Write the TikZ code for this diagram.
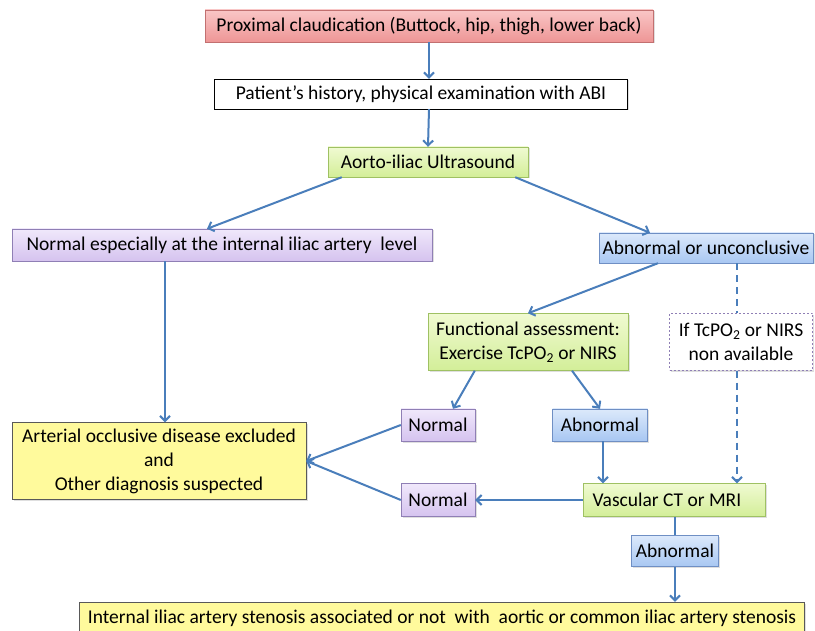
\documentclass[tikz,border=0pt]{standalone}
\usepackage{fontspec}
\setmainfont{Carlito}
\usetikzlibrary{arrows.meta,shadows}

\definecolor{arrowblue}{HTML}{4A7EBB}
\definecolor{pinktop}{HTML}{F9C6C6}
\definecolor{pinkbot}{HTML}{EE9696}
\definecolor{pinkline}{HTML}{C27070}
\definecolor{greentop}{HTML}{F0FAD2}
\definecolor{greenbot}{HTML}{D3EE98}
\definecolor{greenline}{HTML}{9FC163}
\definecolor{purptop}{HTML}{F0E8FB}
\definecolor{purpbot}{HTML}{D5C3EF}
\definecolor{purpline}{HTML}{8F7FB5}
\definecolor{bluetop}{HTML}{DCE9FB}
\definecolor{bluebot}{HTML}{A8C7F2}
\definecolor{blueline}{HTML}{6F8FC4}
\definecolor{yellowfill}{HTML}{FFFA9C}

\begin{document}
\begin{tikzpicture}[x=1pt,y=-1pt,
  box/.style={draw,inner sep=0pt,align=center,font=\fontsize{19.5}{24}\selectfont,
              drop shadow={opacity=0.25,shadow xshift=1.5pt,shadow yshift=-1.5pt}},
  pinkbox/.style={box,draw=pinkline,top color=pinktop,bottom color=pinkbot},
  greenbox/.style={box,draw=greenline,top color=greentop,bottom color=greenbot},
  purpbox/.style={box,draw=purpline,top color=purptop,bottom color=purpbot},
  bluebox/.style={box,draw=blueline,top color=bluetop,bottom color=bluebot},
  yellowbox/.style={box,draw=black!65,fill=yellowfill},
  arr/.style={draw=arrowblue,line width=2pt,-{Straight Barb[length=5pt,width=10pt]}},
  dasharr/.style={arr,dash pattern=on 7pt off 5pt}]
\useasboundingbox (0,0) rectangle (815,631);

% top of the chart
\node[pinkbox,minimum width=448pt,minimum height=32pt] (prox) at (429,26) {Proximal claudication (Buttock, hip, thigh, lower back)};
\node[box,draw=black,fill=white,minimum width=413pt,minimum height=30pt] (hist) at (421,94) {Patient’s history, physical examination with ABI};
\node[greenbox,minimum width=200pt,minimum height=30pt] (us) at (428,162) {Aorto-iliac Ultrasound};

% first split
\node[purpbox,minimum width=420pt,minimum height=32pt] (normlvl) at (222,245) {Normal especially at the internal iliac artery~ level};
\node[bluebox,minimum width=214pt,minimum height=30pt] (abnunc) at (706,248) {Abnormal or unconclusive};

\node[greenbox,minimum width=200pt,minimum height=57pt] (func) at (528,342) {Functional assessment:\\Exercise TcPO\textsubscript{2} or NIRS};
\node[box,draw=purpline,dash pattern=on 2pt off 2pt,fill=white,minimum width=143pt,minimum height=57pt] (iftc) at (741,342) {If TcPO\textsubscript{2} or NIRS\\non available};

% results
\node[yellowbox,minimum width=294pt,minimum height=77pt] (excl) at (159,461) {Arterial occlusive disease excluded\\and\\Other diagnosis suspected};
\node[purpbox,minimum width=74pt,minimum height=32pt] (norma) at (438,425) {Normal};
\node[bluebox,minimum width=95pt,minimum height=32pt] (abna) at (600,425) {Abnormal};
\node[purpbox,minimum width=74pt,minimum height=33pt] (normb) at (438,500) {Normal};
\node[greenbox,minimum width=182pt,minimum height=33pt] (vasc) at (674,500) {Vascular CT or MRI\hspace{14pt}};
\node[bluebox,minimum width=87pt,minimum height=31pt] (abnb) at (675,551) {Abnormal};
\node[yellowbox,minimum width=725pt,minimum height=32pt] (intil) at (442,618) {Internal iliac artery stenosis associated or not~ with~ aortic or common iliac artery stenosis};

\coordinate (lx) at (165,0);   % line under the purple box
\coordinate (dx) at (737,0);   % dashed branch

\draw[arr] (prox.south) -- (prox.south |- hist.north);
\draw[arr] (prox.south |- hist.south) -- (us.north);
\draw[arr] ([xshift=14pt]us.south west) -- ([xshift=-15pt]normlvl.north);
\draw[arr] ([xshift=-13pt]us.south east) -- ([xshift=-56pt]abnunc.north);
\draw[arr] (normlvl.south -| lx) -- (excl.north -| lx);
\draw[arr] ([xshift=-48pt]abnunc.south) -- (func.north);
\draw[dasharr,-] (abnunc.south -| dx) -- (iftc.north -| dx);
\draw[dasharr] (iftc.south -| dx) -- (vasc.north -| dx);
\draw[arr] ([xshift=47pt]func.south west) -- ([xshift=15pt]norma.north);
\draw[arr] ([xshift=44pt]func.south) -- (abna.north);
\draw[arr] ([xshift=3pt]abna.south) -- ([xshift=3pt]abna.south |- vasc.north);
\draw[arr] (norma.west) -- (excl.east);
\draw[arr] (normb.west) -- (excl.east);
\draw[arr] (vasc.west) -- (normb.east);
\draw[draw=arrowblue,line width=2pt] (abnb.north |- vasc.south) -- (abnb.north);
\draw[arr] (abnb.south) -- (abnb.south |- intil.north);
\end{tikzpicture}
\end{document}
